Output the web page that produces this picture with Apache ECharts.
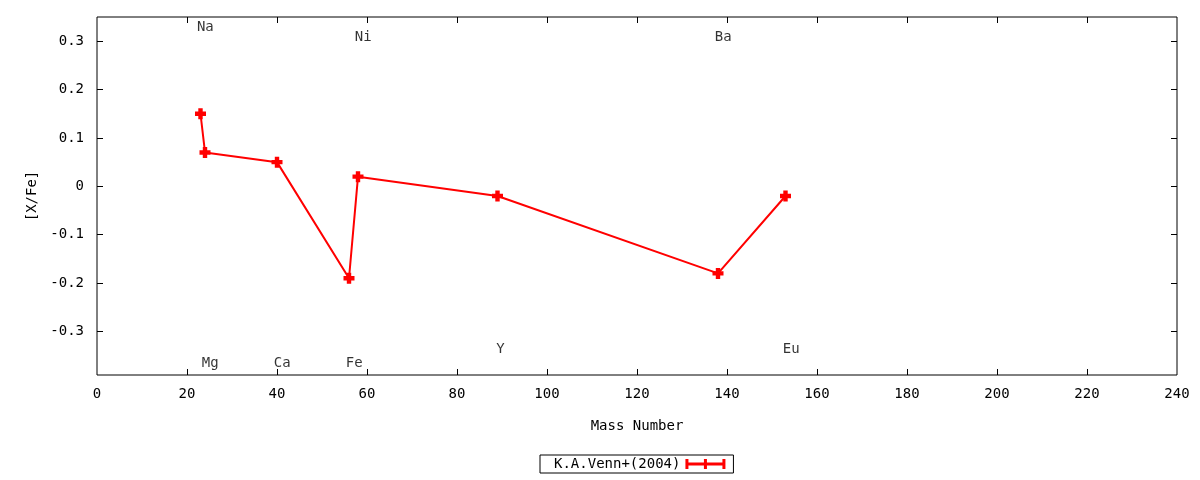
<!DOCTYPE html>
<html>
<head>
<meta charset="utf-8">
<script src="https://cdn.jsdelivr.net/npm/echarts@6/dist/echarts.min.js"></script>
<style>
html,body{margin:0;padding:0;background:#fff}
#main{width:1200px;height:480px}
</style>
</head>
<body>
<div id="main"></div>
<script>
// K.A.Venn+(2004) abundances, [X/Fe] vs mass number
var massNumber = [23, 24, 40, 56, 58, 89, 138, 153];
var xFe = [0.15, 0.07, 0.05, -0.19, 0.02, -0.02, -0.18, -0.02];

// element name labels (text placed inside the frame)
var elemNames = ['Na', 'Ni', 'Ba', 'Mg', 'Ca', 'Fe', 'Y', 'Eu'];
var elemLabelX = [22.2, 57.3, 137.3, 23.3, 39.3, 55.3, 88.7, 152.4];
var elemLabelY = [0.329, 0.308, 0.308, -0.366, -0.366, -0.366, -0.337, -0.337];

// tick positions
var xTicks = [0, 20, 40, 60, 80, 100, 120, 140, 160, 180, 200, 220, 240];
var yTicks = [-0.3, -0.2, -0.1, 0, 0.1, 0.2, 0.3];

var seriesName = 'K.A.Venn+(2004)';
var xTitle = 'Mass Number';
var yTitle = '[X/Fe]';

var FONT = 'DejaVu Sans Mono';
var plus = 'path://M3,0 H7 V3 H10 V7 H7 V10 H3 V7 H0 V3 H3 Z';

function echartsVenn() {
	var myChart = echarts.init(document.getElementById('main'));
	var lineData = [];
	for (var i = 0; i < massNumber.length; i++) {
		lineData.push([massNumber[i], xFe[i]]);
	}
	var labelData = [];
	for (var j = 0; j < elemNames.length; j++) {
		labelData.push({name: elemNames[j], value: [elemLabelX[j], elemLabelY[j]]});
	}
	function tick(vals) {
		return {show: true, inside: true, length: 6, customValues: vals, lineStyle: {color: '#000', width: 1}};
	}
	var noLine = {show: false, onZero: false};
	var option = {
		backgroundColor: '#fff',
		animation: false,
		textStyle: {fontFamily: FONT},
		grid: {
			left: 97, right: 23, top: 17, bottom: 105,
			show: true, borderColor: '#000', borderWidth: 1
		},
		legend: {
			top: 455,
			left: 540,
			align: 'right',
			borderColor: '#000',
			borderWidth: 1,
			borderRadius: 0,
			padding: [2, 8, 2, 14],
			itemWidth: 40,
			itemHeight: 10,
			itemGap: 6,
			textStyle: {color: '#000', fontFamily: FONT, fontSize: 14},
			data: [{
				name: seriesName,
				icon: 'path://M0,0 H3 V10 H0 Z M37,0 H40 V10 H37 Z M18.5,0 H21.5 V10 H18.5 Z M0,3.5 H40 V6.5 H0 Z',
				itemStyle: {color: '#ff0000'}
			}]
		},
		xAxis: [{
			type: 'value',
			min: 0, max: 240, interval: 20,
			name: xTitle,
			nameLocation: 'middle',
			nameGap: 44,
			nameTextStyle: {color: '#000', fontFamily: FONT, fontSize: 14},
			axisLine: noLine,
			axisTick: tick(xTicks.slice(1, -1)),
			splitLine: {show: false},
			axisLabel: {color: '#000', fontFamily: FONT, fontSize: 14, margin: 12, customValues: xTicks}
		}, {
			type: 'value',
			position: 'top',
			min: 0, max: 240, interval: 20,
			axisLine: noLine,
			axisTick: tick(xTicks.slice(1, -1)),
			splitLine: {show: false},
			axisLabel: {show: false}
		}],
		yAxis: [{
			type: 'value',
			min: -0.39, max: 0.35,
			name: yTitle,
			nameLocation: 'middle',
			nameGap: 58,
			nameRotate: 90,
			nameTextStyle: {color: '#000', fontFamily: FONT, fontSize: 14},
			axisLine: noLine,
			axisTick: tick(yTicks),
			splitLine: {show: false},
			axisLabel: {
				color: '#000', fontFamily: FONT, fontSize: 14, margin: 13,
				customValues: yTicks,
				formatter: function (v) {
					return Math.abs(v) < 1e-9 ? '0' : (Math.round(v * 10) / 10).toString();
				}
			}
		}, {
			type: 'value',
			position: 'right',
			min: -0.39, max: 0.35,
			axisLine: noLine,
			axisTick: tick(yTicks),
			splitLine: {show: false},
			axisLabel: {show: false}
		}],
		series: [{
			name: seriesName,
			type: 'line',
			data: lineData,
			symbol: plus,
			symbolSize: 11,
			color: '#ff0000',
			itemStyle: {color: '#ff0000'},
			lineStyle: {color: '#ff0000', width: 2},
			z: 3
		}, {
			name: 'labels',
			type: 'scatter',
			data: labelData,
			symbolSize: 0,
			silent: true,
			label: {
				show: true,
				position: [0, 0],
				align: 'left',
				verticalAlign: 'middle',
				color: '#000',
				fontFamily: FONT,
				fontSize: 14,
				formatter: '{b}'
			}
		}]
	};
	myChart.setOption(option);
}
echartsVenn();
</script>
</body>
</html>
